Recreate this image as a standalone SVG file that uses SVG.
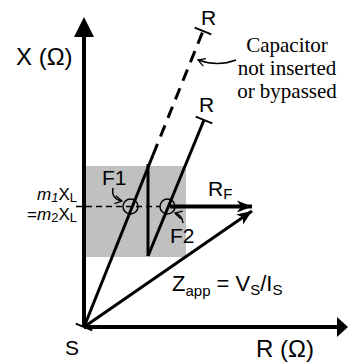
<svg xmlns="http://www.w3.org/2000/svg" width="348" height="363" viewBox="0 0 348 363">
<defs>
<style>
.t{font-family:"Liberation Sans",Arial,sans-serif;font-size:21px;fill:#000}
.ax{font-size:24px}
.s{font-family:"Liberation Serif","Times New Roman",serif;font-size:21px;fill:#000}
.sub{font-size:15px}
.ml{font-size:17px}
.ms{font-size:13px}
.ln{stroke:#000;stroke-width:3;fill:none;stroke-linecap:butt}
.thin{stroke:#000;stroke-width:1.5;fill:none}
</style>
<marker id="barb" viewBox="-16 -8 18 16" refX="0" refY="0" markerWidth="18" markerHeight="16" markerUnits="userSpaceOnUse" orient="auto">
<path d="M0,0 L-15,-6 L-11,0 L-15,6 Z" fill="#000"/>
</marker>
<marker id="small" viewBox="-8 -5 10 10" refX="0" refY="0" markerWidth="10" markerHeight="10" markerUnits="userSpaceOnUse" orient="auto">
<path d="M-7,-4 L0,0 L-7,4" fill="none" stroke="#000" stroke-width="1.3"/>
</marker>
</defs>
<rect x="86" y="166" width="100" height="91" fill="#c0c0c0"/>
<g id="connectors">
<line x1="84" y1="327" x2="84" y2="36" stroke="#000" stroke-width="4"/>
<polygon points="84,17 74,37 94,37" fill="#000"/>
<line x1="84" y1="327" x2="338" y2="327" stroke="#000" stroke-width="4"/>
<polygon points="348,327 337,317 337,337" fill="#000"/>
<line x1="76" y1="206.5" x2="160" y2="206.5" class="thin" stroke-dasharray="6,4"/>
<line x1="84" y1="327" x2="153" y2="155" class="ln"/>
<line x1="153" y1="155" x2="203" y2="31" class="ln" stroke-dasharray="12,8"/>
<line x1="148" y1="164" x2="148" y2="256" class="ln"/>
<line x1="148" y1="256" x2="204" y2="120" class="ln"/>
<line x1="194.7" y1="27.6" x2="211.3" y2="34.4" stroke="#000" stroke-width="2"/>
<line x1="195.7" y1="116.6" x2="212.3" y2="123.4" stroke="#000" stroke-width="2"/>
<line x1="75.7" y1="323.6" x2="92.3" y2="330.4" stroke="#000" stroke-width="2"/>
<line x1="170" y1="206.5" x2="252" y2="206.5" stroke="#000" stroke-width="4" marker-end="url(#barb)"/>
<line x1="84" y1="327" x2="252" y2="211" class="ln" marker-end="url(#barb)"/>
<path d="M236,60 Q218,67 198,60" class="thin" marker-end="url(#small)"/>
<path d="M113,188 Q111,199 122,201" class="thin" marker-end="url(#small)"/>
<path d="M183,223 Q182,215 175,213" class="thin" marker-end="url(#small)"/>
</g>
<g id="F1"><circle cx="130.5" cy="206.5" r="7.5" class="thin"/><text class="t" x="102" y="185">F1</text></g>
<g id="F2"><circle cx="167.5" cy="206.5" r="7.5" class="thin"/><text class="t" x="170" y="243">F2</text></g>
<g id="axisX"><text class="t ax" x="16" y="65">X (Ω)</text></g>
<g id="axisR"><text class="t ax" x="256" y="357">R (Ω)</text></g>
<g id="S"><text class="t" x="65" y="355">S</text></g>
<g id="R1"><text class="t" x="201" y="25">R</text></g>
<g id="R2"><text class="t" x="199" y="112">R</text></g>
<g id="RF"><text class="t" x="208" y="196">R<tspan class="sub" dy="3">F</tspan></text></g>
<g id="Zapp"><text class="t" x="172" y="291" style="font-size:22px">Z<tspan class="sub" dy="5">app</tspan><tspan dy="-5"> = V</tspan><tspan class="sub" dy="4">S</tspan><tspan dy="-4">/I</tspan><tspan class="sub" dy="4">S</tspan></text></g>
<g id="m1"><text class="t ml" x="77" y="200" text-anchor="end"><tspan font-style="italic">m</tspan><tspan font-style="italic" class="ms" dy="1.5">1</tspan><tspan dy="-1.5">X</tspan><tspan class="ms" dy="1.5">L</tspan></text></g>
<g id="m2"><text class="t ml" x="77" y="220" text-anchor="end">=<tspan font-style="italic">m</tspan><tspan class="ms" dy="1.5">2</tspan><tspan dy="-1.5">X</tspan><tspan class="ms" dy="1.5">L</tspan></text></g>
<g id="cap"><text class="s" text-anchor="middle"><tspan x="287" y="52">Capacitor</tspan><tspan x="287" y="75">not inserted</tspan><tspan x="287" y="98">or bypassed</tspan></text></g>
</svg>
